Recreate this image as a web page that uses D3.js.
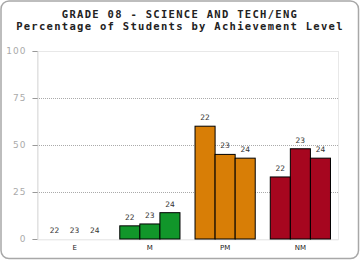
<!DOCTYPE html>
<html>
<head>
<meta charset="utf-8">
<script src="https://cdn.jsdelivr.net/npm/d3@7"></script>
<style>
  body { margin: 0; background: #fff; }
  svg { display: block; }
</style>
</head>
<body>
<div id="chart"></div>
<script>
const categories = ["E", "M", "PM", "NM"];
const years = ["22", "23", "24"];
const values22 = [0, 7, 60, 33];
const values23 = [0, 8, 45, 48];
const values24 = [0, 14, 43, 43];
const catColors = ["#11962a", "#11962a", "#d87e06", "#a6061f"];
const yTicks = [0, 25, 50, 75, 100];
const titleLines = ["GRADE 08 - SCIENCE AND TECH/ENG", "Percentage of Students by Achievement Level"];

const W = 360, H = 260;
const margin = { top: 51, right: 22, bottom: 21, left: 37 };

const svg = d3.select("#chart")
  .append("svg")
  .attr("width", W)
  .attr("height", H);

// outer frame
svg.append("rect")
  .attr("x", 1).attr("y", 1)
  .attr("width", W - 2.5).attr("height", H - 2.5)
  .attr("rx", 8)
  .attr("fill", "#fff")
  .attr("stroke", "#a8a8a8")
  .attr("stroke-width", 1.5);

svg.selectAll(".title")
  .data(titleLines)
  .enter()
  .append("text")
  .attr("class", "title")
  .attr("x", W / 2)
  .attr("y", (d, i) => 17.5 + i * 12)
  .attr("text-anchor", "middle")
  .style("font-family", "'DejaVu Sans Mono', monospace")
  .style("font-weight", "bold")
  .style("font-size", "10.5px")
  .style("letter-spacing", "1.3px")
  .attr("fill", "#222")
  .text(d => d);

const x0 = d3.scaleBand()
  .domain(categories)
  .range([margin.left, W - margin.right])
  .paddingInner(0.2)
  .paddingOuter(0.1);

const x1 = d3.scaleBand()
  .domain(years)
  .range([0, x0.bandwidth()]);

const y = d3.scaleLinear()
  .domain([0, 100])
  .range([H - margin.bottom, margin.top]);

// plot frame
svg.append("rect")
  .attr("x", margin.left + 0.5)
  .attr("y", margin.top + 0.5)
  .attr("width", W - margin.right - margin.left)
  .attr("height", H - margin.bottom - margin.top)
  .attr("fill", "none")
  .attr("stroke", "#e8e8e8");

// grid
svg.selectAll(".grid")
  .data(yTicks.filter(t => t > 0 && t < 100))
  .enter()
  .append("line")
  .attr("x1", margin.left)
  .attr("x2", W - margin.right)
  .attr("y1", d => Math.round(y(d)) + 0.5)
  .attr("y2", d => Math.round(y(d)) + 0.5)
  .attr("stroke", "#aaa")
  .attr("stroke-dasharray", "1,1");

const yAxis = d3.axisLeft(y).tickValues(yTicks).tickSize(5).tickPadding(6);
const gy = svg.append("g")
  .attr("transform", `translate(${margin.left + 0.5},0)`)
  .call(yAxis);
gy.select(".domain").attr("stroke", "#ddd");
gy.selectAll(".tick line").attr("stroke", "#999");
gy.selectAll(".tick text")
  .attr("fill", "#aaa")
  .style("font-family", "'DejaVu Sans', sans-serif")
  .style("font-size", "9px")
  .style("letter-spacing", "1px");

const xAxis = d3.axisBottom(x0).tickSize(0).tickPadding(6);
const gx = svg.append("g")
  .attr("transform", `translate(0,${H - margin.bottom + 0.5})`)
  .call(xAxis);
gx.select(".domain").attr("stroke", "#eee");
gx.selectAll(".tick text")
  .attr("fill", "#222")
  .style("font-family", "'DejaVu Sans', sans-serif")
  .style("font-size", "7px");

const series = [values22, values23, values24];
const rows = [];
categories.forEach((c, ci) => {
  years.forEach((yr, yi) => {
    rows.push({ cat: c, year: yr, value: series[yi][ci], color: catColors[ci] });
  });
});

const groups = svg.append("g");

groups.selectAll(".bar")
  .data(rows.filter(d => d.value > 0))
  .enter()
  .append("rect")
  .attr("class", "bar")
  .attr("x", d => x0(d.cat) + x1(d.year))
  .attr("y", d => y(d.value))
  .attr("width", x1.bandwidth())
  .attr("height", d => y(0) - y(d.value))
  .attr("fill", d => d.color)
  .attr("stroke", "#000")
  .attr("stroke-width", 1);

groups.selectAll(".lbl")
  .data(rows)
  .enter()
  .append("text")
  .attr("class", "lbl")
  .attr("x", d => x0(d.cat) + x1(d.year) + x1.bandwidth() / 2)
  .attr("y", d => y(d.value) - 6)
  .attr("text-anchor", "middle")
  .attr("fill", "#333")
  .style("font-family", "'DejaVu Sans', sans-serif")
  .style("font-size", "7.5px")
  .text(d => d.year);
</script>
</body>
</html>
